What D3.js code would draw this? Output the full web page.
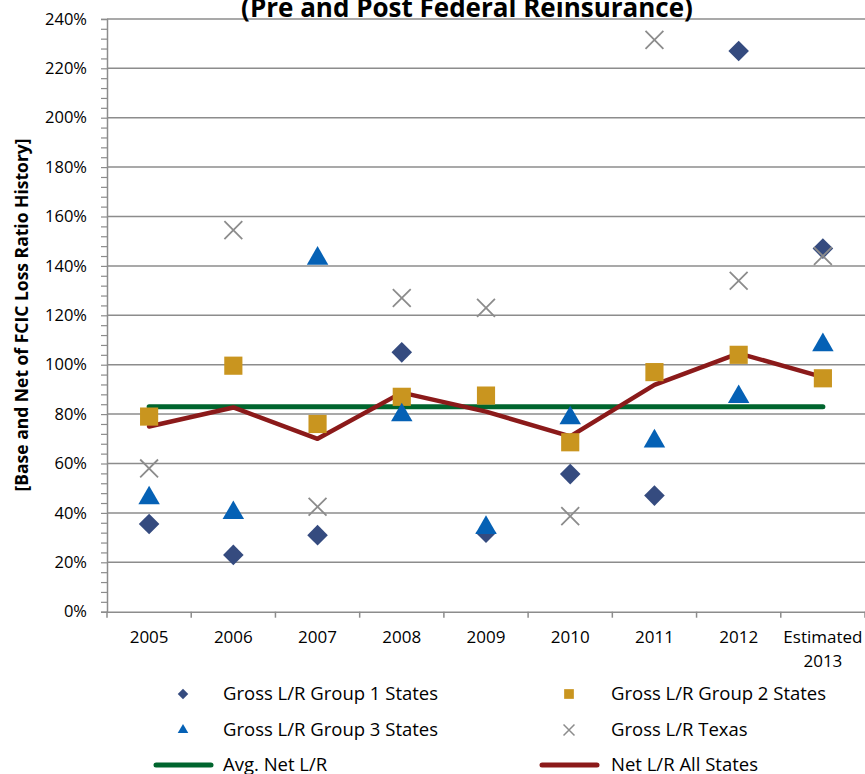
<!DOCTYPE html>
<html>
<head>
<meta charset="utf-8">
<script src="https://cdn.jsdelivr.net/npm/d3@7/dist/d3.min.js"></script>
<style>
  body { margin: 0; background: #fff; }
  svg { display: block; font-family: "Open Sans", sans-serif; }
</style>
</head>
<body>
<div id="chart"></div>
<script>
// Category labels (last one wraps to two lines)
const years = ["2005", "2006", "2007", "2008", "2009", "2010", "2011", "2012", "Estimated 2013"];

// Series values (loss ratios, fraction)
const group1 = [0.355, 0.23, 0.31, 1.05, 0.32, 0.557, 0.47, 2.27, 1.47];
const group2 = [0.79, 0.996, 0.76, 0.87, 0.875, 0.686, 0.97, 1.04, 0.945];
const group3 = [0.46, 0.40, 1.43, 0.796, 0.34, 0.784, 0.69, 0.87, 1.08];
const texas = [0.58, 1.545, 0.425, 1.27, 1.23, 0.387, 2.315, 1.34, 1.44];
const netAll = [0.75, 0.827, 0.70, 0.887, 0.81, 0.71, 0.918, 1.046, 0.95];
const avgNet = [0.83, 0.83, 0.83, 0.83, 0.83, 0.83, 0.83, 0.83, 0.83];

const yTicks = d3.range(0, 2.41, 0.2);

const width = 865, height = 774;
const margin = { left: 107, right: 0, top: 18.9, bottom: 162.3 };

const svg = d3.select("#chart").append("svg")
    .attr("width", width)
    .attr("height", height);

svg.append("rect").attr("width", width).attr("height", height).attr("fill", "#fff");

const x = d3.scaleBand()
    .domain(years)
    .range([margin.left, width - margin.right])
    .padding(0);

const y = d3.scaleLinear()
    .domain([0, 2.4])
    .range([height - margin.bottom, margin.top]);

const cx = d => x(d) + x.bandwidth() / 2;

// Gridlines
svg.append("g")
    .selectAll("line")
    .data(yTicks.filter(t => t > 0))
    .join("line")
    .attr("x1", margin.left)
    .attr("x2", width)
    .attr("y1", d => y(d))
    .attr("y2", d => y(d))
    .attr("stroke", "#8c8c8c")
    .attr("stroke-width", 1.5);

// Y axis with minor ticks every 4%
const yAxis = svg.append("g")
    .attr("transform", `translate(${margin.left},0)`)
    .call(d3.axisLeft(y).tickValues(d3.range(0, 2.401, 0.04)).tickSize(6).tickFormat(""));
yAxis.select(".domain").attr("stroke", "#8c8c8c").attr("stroke-width", 1.5);
yAxis.selectAll(".tick line").attr("stroke", "#8c8c8c").attr("stroke-width", 1.2);

svg.append("g")
    .selectAll("text")
    .data(yTicks)
    .join("text")
    .attr("x", 87)
    .attr("y", d => y(d))
    .attr("dy", "0.35em")
    .attr("text-anchor", "end")
    .attr("font-size", 16.5)
    .attr("fill", "#000")
    .text(d => d3.format(".0%")(d));

// X axis
const xAxis = svg.append("g")
    .attr("transform", `translate(0,${y(0)})`)
    .call(d3.axisBottom(x).tickSize(0).tickFormat(""));
xAxis.select(".domain").attr("stroke", "#8c8c8c").attr("stroke-width", 1.5);

const bounds = years.map(d => x(d)).concat([x(years[years.length - 1]) + x.bandwidth()]);
svg.append("g")
    .selectAll("line")
    .data(bounds)
    .join("line")
    .attr("x1", d => d).attr("x2", d => d)
    .attr("y1", y(0)).attr("y2", y(0) + 6)
    .attr("stroke", "#8c8c8c")
    .attr("stroke-width", 1.5);

const xLabels = svg.append("g")
    .selectAll("text")
    .data(years)
    .join("text")
    .attr("x", d => cx(d))
    .attr("y", 643)
    .attr("text-anchor", "middle")
    .attr("font-size", 17)
    .attr("fill", "#000");
xLabels.each(function(d) {
    const parts = d.split(" ");
    d3.select(this).selectAll("tspan")
        .data(parts)
        .join("tspan")
        .attr("x", cx(d))
        .attr("dy", (p, i) => i === 0 ? 0 : 24)
        .text(p => p);
});

// Lines
const line = d3.line()
    .x((v, i) => cx(years[i]))
    .y(v => y(v));

svg.append("path")
    .datum(avgNet)
    .attr("d", line)
    .attr("fill", "none")
    .attr("stroke", "#00652E")
    .attr("stroke-width", 5)
    .attr("stroke-linecap", "round");

svg.append("path")
    .datum(netAll)
    .attr("d", line)
    .attr("fill", "none")
    .attr("stroke", "#8B1A1A")
    .attr("stroke-width", 4.5)
    .attr("stroke-linejoin", "round")
    .attr("stroke-linecap", "round");

// Markers
const diamondColor = "#354B7F", squareColor = "#C9951F", triColor = "#0561B5", xColor = "#8c8c8c";

function drawMarkers(values, type, size, color) {
    svg.append("g")
        .selectAll("path")
        .data(values)
        .join("path")
        .attr("transform", (v, i) => `translate(${cx(years[i])},${y(v)})`)
        .attr("d", d3.symbol().type(type).size(size))
        .attr("fill", type === d3.symbolX ? "none" : color)
        .attr("stroke", type === d3.symbolX ? color : "none")
        .attr("stroke-width", 1.8);
}

drawMarkers(group1, d3.symbolDiamond2, 270, diamondColor);
drawMarkers(group2, d3.symbolSquare2, 420, squareColor);
drawMarkers(group3, d3.symbolTriangle2, 330, triColor);
drawMarkers(texas, d3.symbolX, 210, xColor);

// Title (first line clipped off at top, as in the source)
svg.append("text")
    .attr("x", 467)
    .attr("y", 17)
    .attr("text-anchor", "middle")
    .attr("font-size", 26)
    .attr("font-weight", "bold")
    .text("(Pre and Post Federal Reinsurance)");

// Y axis title
svg.append("text")
    .attr("transform", `translate(28,315) rotate(-90)`)
    .attr("text-anchor", "middle")
    .attr("font-size", 17.5)
    .attr("font-weight", "bold")
    .text("[Base and Net of FCIC Loss Ratio History]");

// Legend
const legendItems = [
    { label: "Gross L/R Group 1 States", kind: "sym", type: d3.symbolDiamond2, size: 70, color: diamondColor, col: 0, row: 0 },
    { label: "Gross L/R Group 2 States", kind: "sym", type: d3.symbolSquare2, size: 120, color: squareColor, col: 1, row: 0 },
    { label: "Gross L/R Group 3 States", kind: "sym", type: d3.symbolTriangle2, size: 80, color: triColor, col: 0, row: 1 },
    { label: "Gross L/R Texas", kind: "sym", type: d3.symbolX, size: 80, color: xColor, col: 1, row: 1 },
    { label: "Avg. Net L/R", kind: "line", color: "#00652E", col: 0, row: 2 },
    { label: "Net L/R All States", kind: "line", color: "#8B1A1A", col: 1, row: 2 }
];
const colSym = [183, 569], colText = [223, 611], rowY = [694, 730, 765];

const lg = svg.append("g").selectAll("g")
    .data(legendItems)
    .join("g");

lg.filter(d => d.kind === "sym").append("path")
    .attr("transform", d => `translate(${colSym[d.col]},${rowY[d.row]})`)
    .attr("d", d => d3.symbol().type(d.type).size(d.size)())
    .attr("fill", d => d.type === d3.symbolX ? "none" : d.color)
    .attr("stroke", d => d.type === d3.symbolX ? d.color : "none")
    .attr("stroke-width", 1.5);

lg.filter(d => d.kind === "line").append("line")
    .attr("x1", d => colSym[d.col] - 27)
    .attr("x2", d => colSym[d.col] + 28)
    .attr("y1", d => rowY[d.row])
    .attr("y2", d => rowY[d.row])
    .attr("stroke", d => d.color)
    .attr("stroke-width", 5)
    .attr("stroke-linecap", "round");

lg.append("text")
    .attr("x", d => colText[d.col])
    .attr("y", d => rowY[d.row])
    .attr("dy", "0.35em")
    .attr("font-size", 18.5)
    .text(d => d.label);
</script>
</body>
</html>
